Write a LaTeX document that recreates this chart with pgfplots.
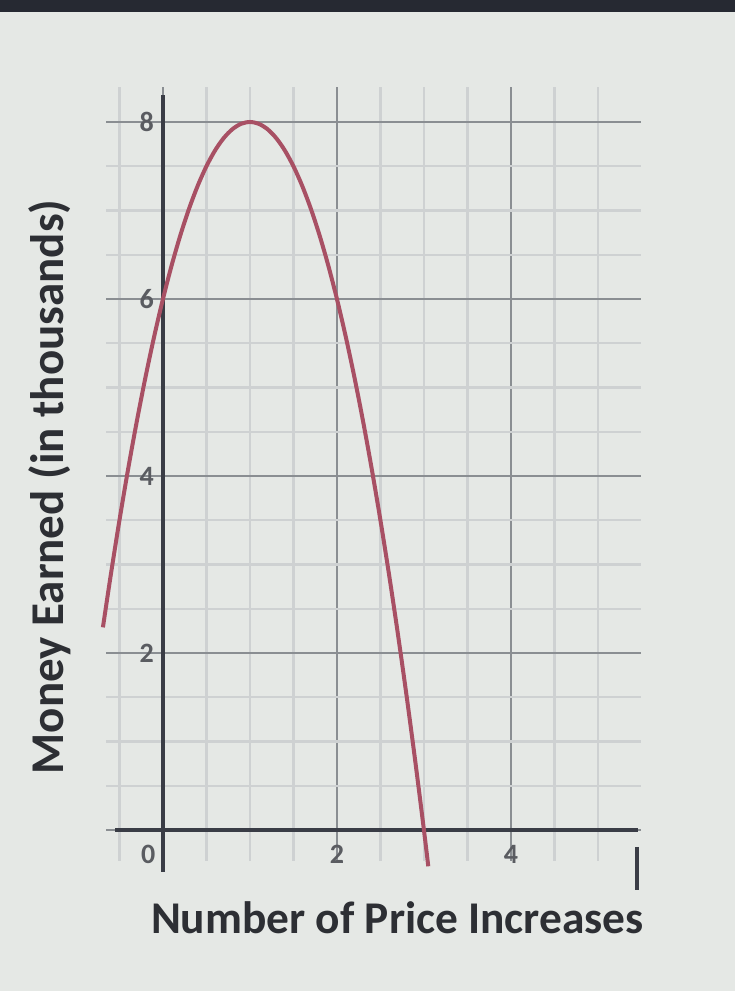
\documentclass[border=0pt]{standalone}
\usepackage{pgfplots}
\pgfplotsset{compat=1.18}
\usepackage{fontspec}
\setmainfont{Carlito}
\definecolor{bg}{RGB}{229,232,229}
\definecolor{topband}{RGB}{38,41,50}
\definecolor{majgrid}{RGB}{138,142,146}
\definecolor{mingrid}{RGB}{206,209,210}
\definecolor{axiscol}{RGB}{58,61,70}
\definecolor{curvecol}{RGB}{168,80,100}
\definecolor{txt}{RGB}{45,47,52}
\definecolor{ticktxt}{RGB}{90,92,97}
\begin{document}
\begin{tikzpicture}
\fill[bg] (0,0) rectangle (367.5pt,495.5pt);
\fill[topband] (0,489.5pt) rectangle (367.5pt,495.5pt);
\begin{axis}[
  at={(53.2pt,65pt)}, anchor=south west,
  scale only axis, width=267.5pt, height=387.2pt,
  xmin=-0.65, xmax=5.5, ymin=-0.35, ymax=8.4,
  axis line style={draw=none},
  xtick={0,2,4}, ytick={0,2,4,6,8},
  minor xtick={-0.5,0.5,1,1.5,2.5,3,3.5,4.5,5},
  minor ytick={0.5,1,1.5,2.5,3,3.5,4.5,5,5.5,6.5,7,7.5},
  xticklabels={}, yticklabels={},
  major tick length=0pt, minor tick length=0pt,
  grid=both,
  major grid style={draw=majgrid, line width=1.3pt},
  minor grid style={draw=mingrid, line width=1.2pt},
  clip=false,
]
\draw[axiscol, line width=2pt] (axis cs:-0.55,0) -- (axis cs:5.46,0);
\draw[axiscol, line width=2pt] (axis cs:0,-0.47) -- (axis cs:0,8.3);
\draw[axiscol, line width=2pt] (axis cs:5.45,-0.19) -- (axis cs:5.45,-0.68);
\addplot[curvecol, line width=2pt, smooth] coordinates {
(-0.69,2.29) (-0.6,2.88) (-0.5,3.5) (-0.4,4.08) (-0.3,4.62) (-0.2,5.12) (-0.1,5.58)
(0,6) (0.1,6.38) (0.2,6.72) (0.3,7.02) (0.4,7.28) (0.5,7.5) (0.6,7.68) (0.7,7.82)
(0.8,7.92) (0.9,7.98) (1.0,8) (1.1,7.98) (1.2,7.92) (1.3,7.82) (1.4,7.68) (1.5,7.5)
(1.6,7.28) (1.7,7.02) (1.8,6.72) (1.9,6.38) (2.0,6) (2.1,5.58) (2.2,5.12) (2.3,4.62)
(2.4,4.08) (2.5,3.5) (2.6,2.88) (2.7,2.22) (2.8,1.52) (2.9,0.78) (3.0,0) (3.05,-0.41)
};
\begin{scope}[every node/.style={font=\bfseries\fontsize{14}{14}\selectfont, text=ticktxt, inner sep=0pt}]
\node[anchor=east] at (axis cs:-0.1,8) {8};
\node[anchor=east] at (axis cs:-0.1,6) {6};
\node[anchor=east] at (axis cs:-0.1,4) {4};
\node[anchor=east] at (axis cs:-0.1,2) {2};
\node at (axis cs:-0.17,-0.27) {0};
\node at (axis cs:2,-0.27) {2};
\node at (axis cs:4,-0.27) {4};
\end{scope}
\end{axis}
\node[anchor=base, font=\bfseries\fontsize{22.7}{22.7}\selectfont, text=txt, inner sep=0pt] at (198.75pt,28.5pt) {Number of Price Increases};
\node[rotate=90, font=\bfseries\fontsize{23.5}{23.5}\selectfont, text=txt, inner sep=0pt] at (25pt,252pt) {Money Earned (in thousands)};
\end{tikzpicture}
\end{document}
